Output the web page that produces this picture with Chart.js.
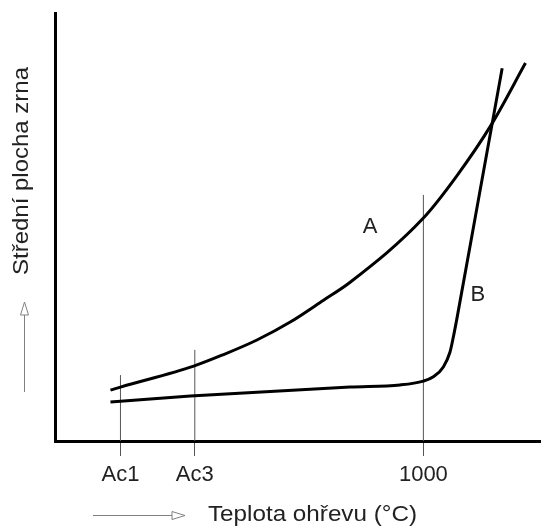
<!DOCTYPE html>
<html>
<head>
<meta charset="utf-8">
<script src="https://cdn.jsdelivr.net/npm/chart.js@4/dist/chart.umd.min.js"></script>
<style>
  html, body { margin: 0; padding: 0; background: #fff; }
  canvas { display: block; }
</style>
</head>
<body>
<canvas id="c" width="541" height="526"></canvas>
<script>
// ---- data ----
const tickTemps = [727, 794, 1000];
const tickLabels = ['Ac1', 'Ac3', '1000'];
const guideTops = [15.4, 21.3, 57.5];

const curveATemp  = [718, 727, 793, 819, 850, 880, 910, 934, 1000, 1030, 1061, 1092];
const curveAValue = [11.9, 12.6, 17.5, 20.1, 23.6, 27.8, 32.9, 37.1, 52.1, 61.9, 73.8, 88.3];

const curveBTemp  = [718, 790, 934, 979, 1000, 1009, 1018, 1024, 1027, 1030, 1051, 1071];
const curveBValue = [9.1, 10.5, 12.6, 13.1, 14.0, 15.0, 17.3, 20.8, 24.3, 28.3, 58.4, 87.1];

const curveLabelText = ['A', 'B'];
const curveLabelTemp = [952, 1049];
const curveLabelValue = [50, 34.1];

const xTitle = 'Teplota ohřevu (°C)';
const yTitle = 'Střední plocha zrna';

// ---- build ----
const FONT = "'Liberation Sans', Arial, Helvetica, sans-serif";
const toPts = (xs, ys) => xs.map((x, i) => ({ x: x, y: ys[i] }));

const datasets = [
  {
    label: 'A', data: toPts(curveATemp, curveAValue),
    borderColor: '#000', borderWidth: 3, pointRadius: 0,
    cubicInterpolationMode: 'monotone', fill: false
  },
  {
    label: 'B', data: toPts(curveBTemp, curveBValue),
    borderColor: '#000', borderWidth: 3, pointRadius: 0,
    cubicInterpolationMode: 'monotone', fill: false
  }
];
tickTemps.forEach((t, i) => {
  datasets.push({
    label: 'guide ' + tickLabels[i],
    data: [{ x: t, y: 0 }, { x: t, y: guideTops[i] }],
    borderColor: '#555', borderWidth: 1, pointRadius: 0, tension: 0, fill: false
  });
});

function fitText(ctx, text, cx, cy, width) {
  const w = ctx.measureText(text).width;
  ctx.save();
  ctx.translate(cx, cy);
  ctx.scale(width / w, 1);
  ctx.textAlign = 'center';
  ctx.fillText(text, 0, 0);
  ctx.restore();
}

const decor = {
  id: 'decor',
  afterDraw(chart) {
    const ctx = chart.ctx;
    const xs = chart.scales.x, ys = chart.scales.y;
    ctx.save();
    // curve labels
    ctx.fillStyle = '#222';
    ctx.font = '22px ' + FONT;
    ctx.textAlign = 'center';
    ctx.textBaseline = 'middle';
    curveLabelText.forEach((t, i) => {
      ctx.fillText(t, xs.getPixelForValue(curveLabelTemp[i]), ys.getPixelForValue(curveLabelValue[i]));
    });
    // axis titles
    ctx.font = '22px ' + FONT;
    ctx.textBaseline = 'alphabetic';
    fitText(ctx, xTitle, 312.5, 521, 209);
    ctx.save();
    ctx.translate(28, 171);
    ctx.rotate(-Math.PI / 2);
    fitText(ctx, yTitle, 0, 0, 208);
    ctx.restore();
    // arrows
    ctx.strokeStyle = '#808080';
    ctx.lineWidth = 1;
    // x arrow
    ctx.beginPath();
    ctx.moveTo(93, 515.5); ctx.lineTo(172, 515.5);
    ctx.stroke();
    ctx.beginPath();
    ctx.moveTo(172, 511.5); ctx.lineTo(185, 515.5); ctx.lineTo(172, 519.5); ctx.closePath();
    ctx.stroke();
    // y arrow
    ctx.beginPath();
    ctx.moveTo(24.5, 392); ctx.lineTo(24.5, 315);
    ctx.stroke();
    ctx.beginPath();
    ctx.moveTo(20.5, 315); ctx.lineTo(24.5, 302); ctx.lineTo(28.5, 315); ctx.closePath();
    ctx.stroke();
    ctx.restore();
  }
};

new Chart(document.getElementById('c'), {
  type: 'line',
  data: { datasets: datasets },
  options: {
    responsive: false,
    animation: false,
    layout: { padding: { top: 13, right: 0, left: 0, bottom: 0 } },
    plugins: { legend: { display: false }, tooltip: { enabled: false } },
    scales: {
      x: {
        type: 'linear', min: 668, max: 1106, offset: false,
        afterBuildTicks: (s) => { s.ticks = tickTemps.map(v => ({ value: v })); },
        afterFit: (s) => { s.height = 85; },
        ticks: {
          autoSkip: false, maxRotation: 0, padding: 6,
          color: '#222', font: { family: FONT, size: 22 },
          callback: (v) => { const i = tickTemps.indexOf(v); return i >= 0 ? tickLabels[i] : ''; }
        },
        grid: { drawOnChartArea: false, drawTicks: true, tickLength: 15, color: '#555', lineWidth: 1 },
        border: { display: true, color: '#000', width: 3 }
      },
      y: {
        type: 'linear', min: 0, max: 100,
        afterFit: (s) => { s.width = 55; },
        ticks: { display: false },
        grid: { display: false, drawTicks: false },
        border: { display: true, color: '#000', width: 3 }
      }
    }
  },
  plugins: [decor]
});
</script>
</body>
</html>
